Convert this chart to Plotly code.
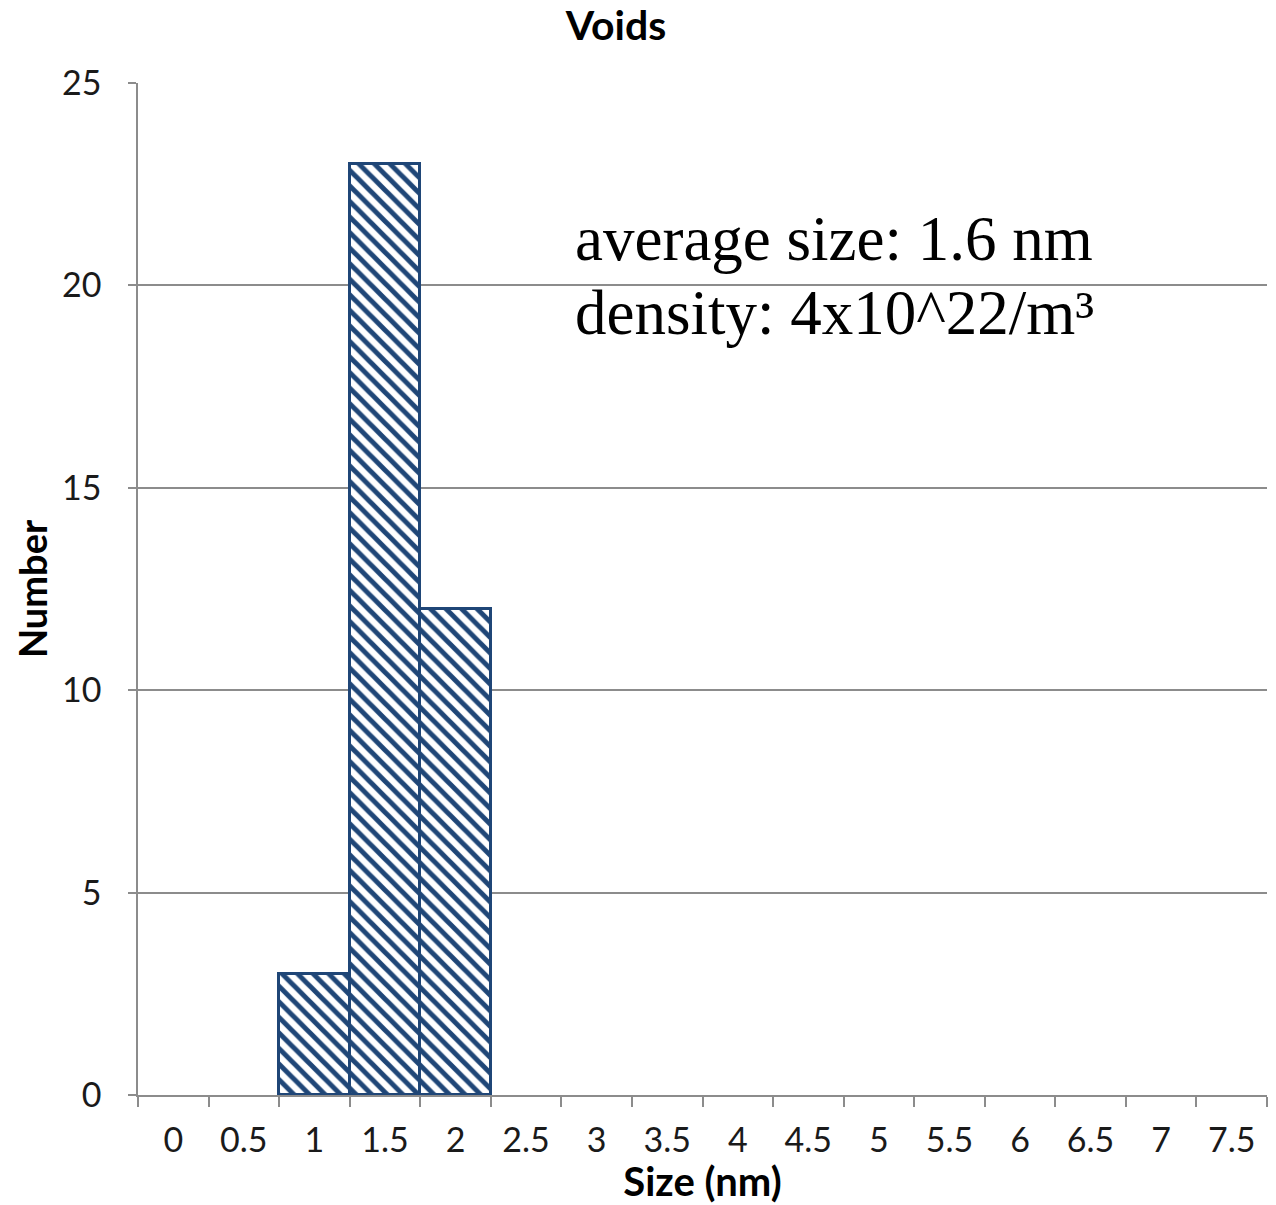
import plotly.graph_objects as go

# Data
size_categories = ["0", "0.5", "1", "1.5", "2", "2.5", "3", "3.5", "4", "4.5",
                   "5", "5.5", "6", "6.5", "7", "7.5"]
bar_sizes = ["1", "1.5", "2"]
bar_counts = [3, 23, 12]
y_ticks = [0, 5, 10, 15, 20, 25]
note_lines = ["average size: 1.6 nm", "density: 4x10^22/m³"]

navy = "#1F4677"
grid = "#8C8C8C"

fig = go.Figure()
fig.add_trace(go.Bar(
    x=bar_sizes, y=bar_counts,
    marker=dict(color="white",
                line=dict(color=navy, width=3),
                pattern=dict(shape="\\", fgcolor=navy, bgcolor="white", fgopacity=1,
                             size=11, solidity=0.45, fillmode="replace")),
    showlegend=False,
))

fig.update_layout(
    width=1276, height=1205,
    margin=dict(l=138, r=9, t=83, b=110),
    paper_bgcolor="white", plot_bgcolor="white",
    bargap=0,
    title=dict(text="<b>Voids</b>", x=(565 + 667) / 2 / 1276, xanchor="center",
               y=1 - 26 / 1205, yanchor="middle",
               font=dict(family="Lato", size=41, color="black")),
    font=dict(family="Lato", color="#1A1A1A"),
)

fig.update_xaxes(
    type="category", categoryorder="array", categoryarray=size_categories,
    range=[-0.5, len(size_categories) - 0.5],
    showgrid=False, showline=True, linecolor=grid, linewidth=1.5,
    ticks="outside", tickson="boundaries", ticklen=10, tickcolor=grid, tickwidth=1.5,
    tickfont=dict(size=34, color="#1A1A1A", family="Lato"),
    ticklabelstandoff=14,
    title=dict(text="<b>Size (nm)</b>", font=dict(size=40, color="black", family="Lato"),
               standoff=6),
    zeroline=False,
)
fig.update_yaxes(
    range=[0, 25], tickvals=y_ticks,
    showgrid=True, gridcolor=grid, gridwidth=1.5,
    showline=True, linecolor=grid, linewidth=1.5,
    ticks="outside", ticklen=8, tickcolor=grid, tickwidth=1.5,
    tickfont=dict(size=34, color="#1A1A1A", family="Lato"),
    ticklabelstandoff=20,
    title=dict(text="<b>Number</b>", font=dict(size=38, color="black", family="Lato"),
               standoff=3),
    zeroline=False,
)

for line, center_px in zip(note_lines, [239, 313]):
    fig.add_annotation(
        text=line,
        xref="paper", yref="paper", x=(573 - 138) / 1129, y=(1095 - center_px) / 1012,
        xanchor="left", yanchor="middle", align="left", showarrow=False,
        font=dict(family="Liberation Serif", size=63, color="black"),
    )

fig.write_html("out.html")
